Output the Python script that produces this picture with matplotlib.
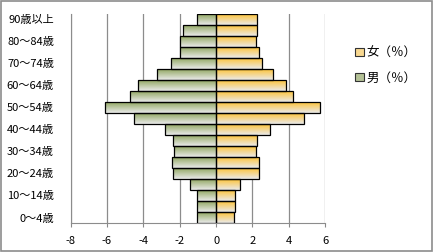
import matplotlib
matplotlib.use("Agg")
import matplotlib.pyplot as plt
from matplotlib.colors import LinearSegmentedColormap
from matplotlib.patches import Rectangle, Patch
import numpy as np

plt.rcParams['font.family'] = ['Noto Sans CJK JP', 'DejaVu Sans']

ages = ["0～4歳", "5～9歳", "10～14歳", "15～19歳", "20～24歳", "25～29歳",
        "30～34歳", "35～39歳", "40～44歳", "45～49歳", "50～54歳", "55～59歳",
        "60～64歳", "65～69歳", "70～74歳", "75～79歳", "80～84歳", "85～89歳",
        "90歳以上"]
male = [-1.03, -1.06, -1.06, -1.41, -2.38, -2.45, -2.29, -2.38, -2.79, -4.49,
        -6.08, -4.76, -4.27, -3.26, -2.49, -1.98, -1.98, -1.80, -1.06]
female = [0.96, 1.02, 1.02, 1.30, 2.38, 2.38, 2.21, 2.27, 2.98, 4.85,
          5.73, 4.24, 3.82, 3.14, 2.53, 2.38, 2.21, 2.27, 2.27]
xticks = [-8, -6, -4, -2, 0, 2, 4, 6]
series_names = ["女（％）", "男（％）"]

green_c = "#8aa256"
orange_c = "#ffc02a"
light_c = "#eaeaea"

fig = plt.figure(figsize=(4.33, 2.52), dpi=100)
ax = fig.add_axes([0.163, 0.115, 0.588, 0.83])

y = np.arange(len(ages))
cm_m = LinearSegmentedColormap.from_list("m", [light_c, green_c])
cm_f = LinearSegmentedColormap.from_list("f", [light_c, orange_c])
grad = np.linspace(0, 1, 64).reshape(-1, 1)

for vals, cmap in ((male, cm_m), (female, cm_f)):
    bars = ax.barh(y, vals, height=1.0, color="none", edgecolor="black",
                   linewidth=0.9, zorder=3)
    for b in bars:
        x0, y0 = b.get_x(), b.get_y()
        w, h = b.get_width(), b.get_height()
        im = ax.imshow(grad, cmap=cmap, origin="lower", aspect="auto",
                       extent=(x0, x0 + w, y0, y0 + h), zorder=2,
                       interpolation="bilinear")
        im.set_clip_path(b)

ax.set_xlim(-8, 6)
ax.set_ylim(-0.5, len(ages) - 0.5)
ax.set_xticks(xticks)
ax.set_xticklabels([str(t) for t in xticks], fontsize=8)
ax.set_yticks(y[::2])
ax.set_yticklabels(ages[::2], fontsize=8)
ax.tick_params(axis="y", length=0, pad=12)
ax.tick_params(axis="x", length=3, color="#888888", pad=6)
ax.grid(axis="x", color="#8c8c8c", linewidth=0.9, zorder=1)
for s in ("top", "right"):
    ax.spines[s].set_visible(False)
ax.spines["left"].set_color("#8c8c8c")
ax.spines["bottom"].set_color("#8c8c8c")

handles = [Patch(facecolor="#f8d890", edgecolor="#333333", linewidth=0.8),
           Patch(facecolor="#b4c196", edgecolor="#333333", linewidth=0.8)]
fig.legend(handles, series_names, loc="center left",
           bbox_to_anchor=(0.795, 0.74), frameon=False, fontsize=9,
           handlelength=0.65, handleheight=0.65, handletextpad=0.25,
           labelspacing=0.95)

fig.patches.append(Rectangle((0.002, 0.004), 0.995, 0.992, transform=fig.transFigure,
                             fill=False, edgecolor="#8c8c8c", linewidth=1.2))

fig.savefig("out.png", dpi=100)
